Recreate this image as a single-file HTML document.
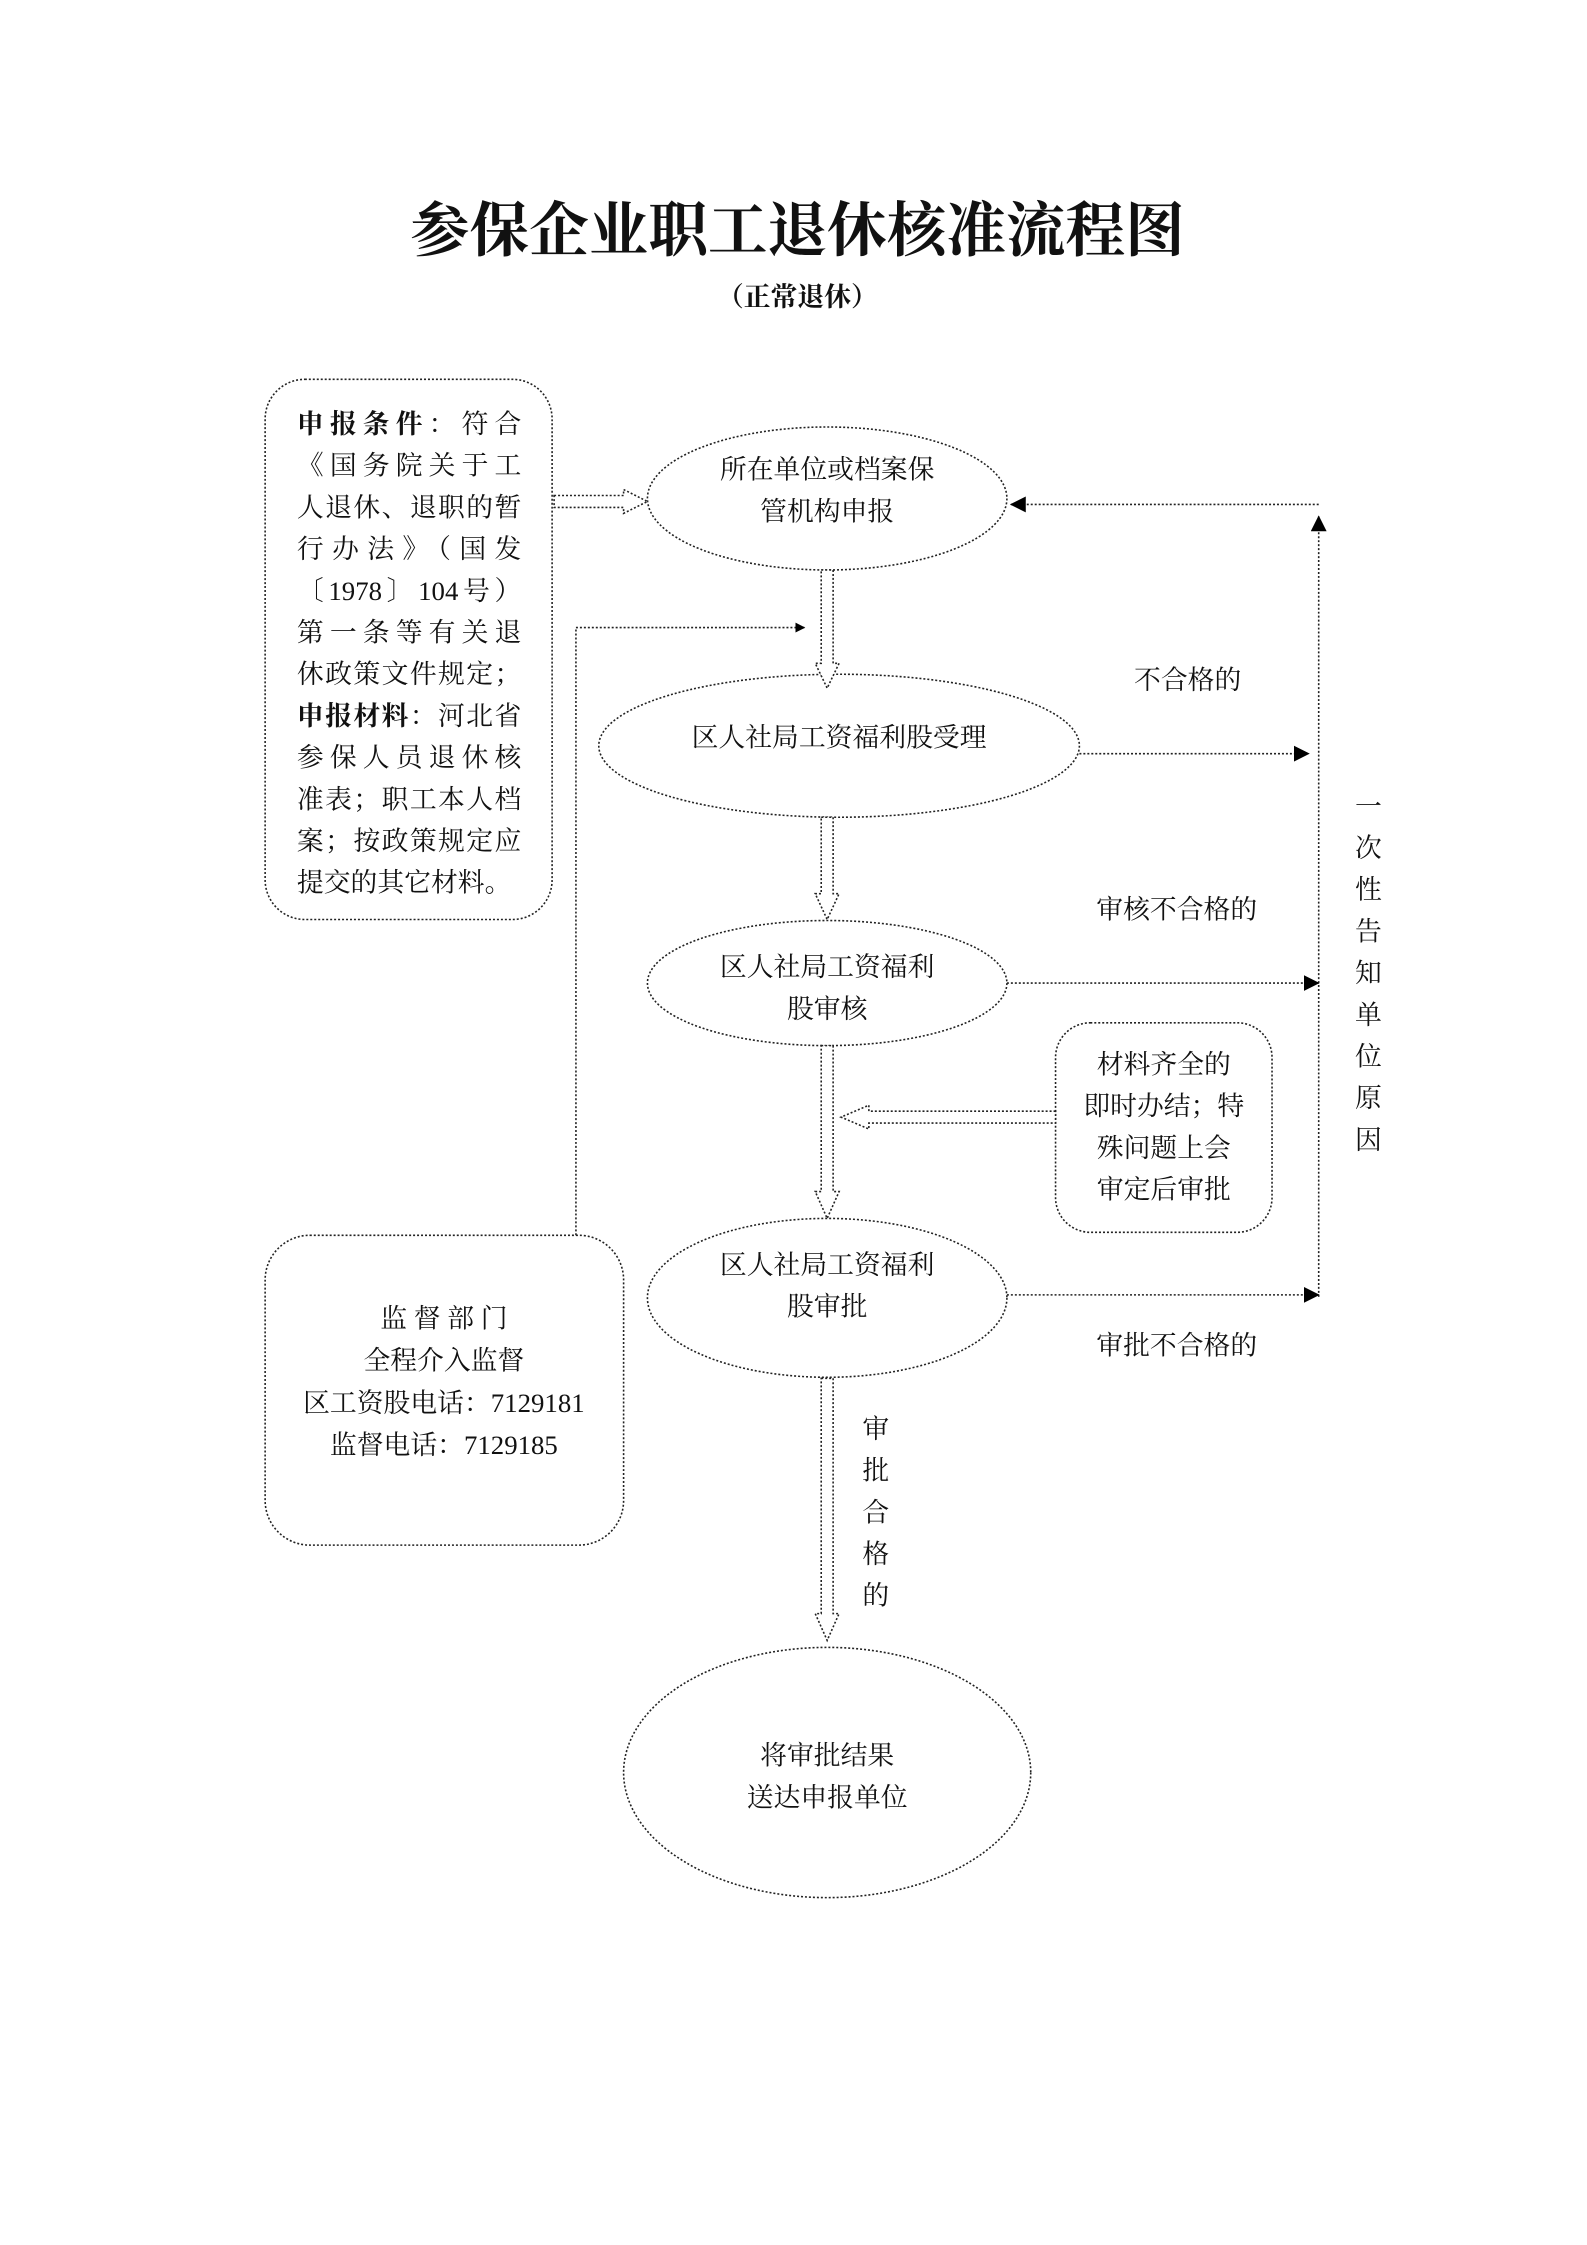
<!DOCTYPE html>
<html><head><meta charset="utf-8"><style>
html,body{margin:0;padding:0;background:#fff;}
body{width:1587px;height:2245px;position:relative;overflow:hidden;font-family:"Liberation Serif","Noto Serif CJK SC",serif;color:#111;}
#w{position:absolute;left:0;top:0;width:1587px;height:2245px;transform:scale(0.993);transform-origin:0 0;}
.t{position:absolute;white-space:nowrap;font-size:27px;line-height:42px;}
.c{transform:translateX(-50%);text-align:center;}
.lb{position:absolute;left:299px;width:226px;font-size:27px;line-height:42px;text-align:justify;text-align-last:justify;white-space:nowrap;}
.v{position:absolute;font-size:27px;line-height:42px;width:30px;text-align:center;}
</style></head><body><div id="w">
<svg width="1587" height="2245" style="position:absolute;left:0;top:0">
<defs>
<marker id="ah" markerWidth="10" markerHeight="10" refX="9" refY="5" orient="auto" markerUnits="userSpaceOnUse"><path d="M0,0 L10,5 L0,10 z" fill="#000"/></marker>
<marker id="ah2" markerWidth="16" markerHeight="16" refX="15" refY="8" orient="auto" markerUnits="userSpaceOnUse"><path d="M0,0 L16,8 L0,16 z" fill="#000"/></marker>
</defs>
<g fill="none" stroke="#222" stroke-width="1.6" stroke-dasharray="2 2">
<rect x="267" y="382" width="289" height="544" rx="40"/>
<rect x="267" y="1244" width="361" height="312" rx="45"/>
<rect x="1063" y="1030" width="218" height="211" rx="35"/>
<ellipse cx="833" cy="502" rx="181" ry="72"/>
<ellipse cx="845" cy="751" rx="242" ry="72"/>
<ellipse cx="833" cy="990" rx="181" ry="63"/>
<ellipse cx="833" cy="1307" rx="181" ry="80"/>
<ellipse cx="833" cy="1785" rx="205" ry="126"/>
<path fill="#fff" d="M827,574 L839,574 L839,668 L845,668 L833,693 L821,668 L827,668 Z"/>
<path fill="#fff" d="M827,823 L839,823 L839,900 L845,900 L833,926 L821,900 L827,900 Z"/>
<path fill="#fff" d="M827,1053 L839,1053 L839,1200 L845,1200 L833,1227 L821,1200 L827,1200 Z"/>
<path fill="#fff" d="M827,1388 L839,1388 L839,1625 L845,1625 L833,1652 L821,1625 L827,1625 Z"/>
<path fill="#fff" d="M558,499 L628,499 L628,493 L652,505 L628,517 L628,511 L558,511 Z"/>
<path fill="#fff" d="M1063,1119 L875,1119 L875,1113 L847,1125 L875,1137 L875,1131 L1063,1131 Z"/>
<polyline points="580,1244 580,632 810,632" marker-end="url(#ah)"/>
<line x1="1328" y1="1306" x2="1328" y2="520" marker-end="url(#ah2)"/>
<line x1="1328" y1="508" x2="1018" y2="508" marker-end="url(#ah2)"/>
<line x1="1087" y1="759" x2="1318" y2="759" marker-end="url(#ah2)"/>
<line x1="1014" y1="990" x2="1328" y2="990" marker-end="url(#ah2)"/>
<line x1="1014" y1="1304" x2="1328" y2="1304" marker-end="url(#ah2)"/>
</g>
</svg>
<div class="t c" style="left:803px;top:197px;font-size:60px;line-height:72px;font-weight:bold;">参保企业职工退休核准流程图</div>
<div class="t c" style="left:803px;top:281px;font-size:27px;line-height:36px;font-weight:bold;">（正常退休）</div>

<div class="lb" style="top:406px"><b>申报条件</b>：符合</div>
<div class="lb" style="top:448px">《国务院关于工</div>
<div class="lb" style="top:490px">人退休、退职的暂</div>
<div class="lb" style="top:532px">行办法》（国发</div>
<div class="lb" style="top:574px">〔1978〕104号）</div>
<div class="lb" style="top:616px">第一条等有关退</div>
<div class="lb" style="top:658px">休政策文件规定；</div>
<div class="lb" style="top:700px"><b>申报材料</b>：河北省</div>
<div class="lb" style="top:742px">参保人员退休核</div>
<div class="lb" style="top:784px">准表；职工本人档</div>
<div class="lb" style="top:826px">案；按政策规定应</div>
<div class="lb" style="top:868px;text-align-last:left">提交的其它材料。</div>

<div class="t c" style="left:833px;top:452px">所在单位或档案保</div>
<div class="t c" style="left:833px;top:494px">管机构申报</div>
<div class="t c" style="left:845px;top:722px">区人社局工资福利股受理</div>
<div class="t c" style="left:833px;top:953px">区人社局工资福利</div>
<div class="t c" style="left:833px;top:995px">股审核</div>
<div class="t c" style="left:833px;top:1253px">区人社局工资福利</div>
<div class="t c" style="left:833px;top:1295px">股审批</div>
<div class="t c" style="left:833px;top:1747px">将审批结果</div>
<div class="t c" style="left:833px;top:1789px">送达申报单位</div>

<div class="t c" style="left:1172px;top:1051px">材料齐全的</div>
<div class="t c" style="left:1172px;top:1093px">即时办结；特</div>
<div class="t c" style="left:1172px;top:1135px">殊问题上会</div>
<div class="t c" style="left:1172px;top:1177px">审定后审批</div>

<div class="t c" style="left:447px;top:1307px">监 督 部 门</div>
<div class="t c" style="left:447px;top:1349px">全程介入监督</div>
<div class="t c" style="left:447px;top:1392px">区工资股电话：7129181</div>
<div class="t c" style="left:447px;top:1434px">监督电话：7129185</div>

<div class="t c" style="left:1196px;top:664px">不合格的</div>
<div class="t c" style="left:1185px;top:895px">审核不合格的</div>
<div class="t c" style="left:1185px;top:1334px">审批不合格的</div>

<div class="v" style="left:1363px;top:791px">一<br>次<br>性<br>告<br>知<br>单<br>位<br>原<br>因</div>
<div class="v" style="left:867px;top:1418px">审<br>批<br>合<br>格<br>的</div>
</div></body></html>
